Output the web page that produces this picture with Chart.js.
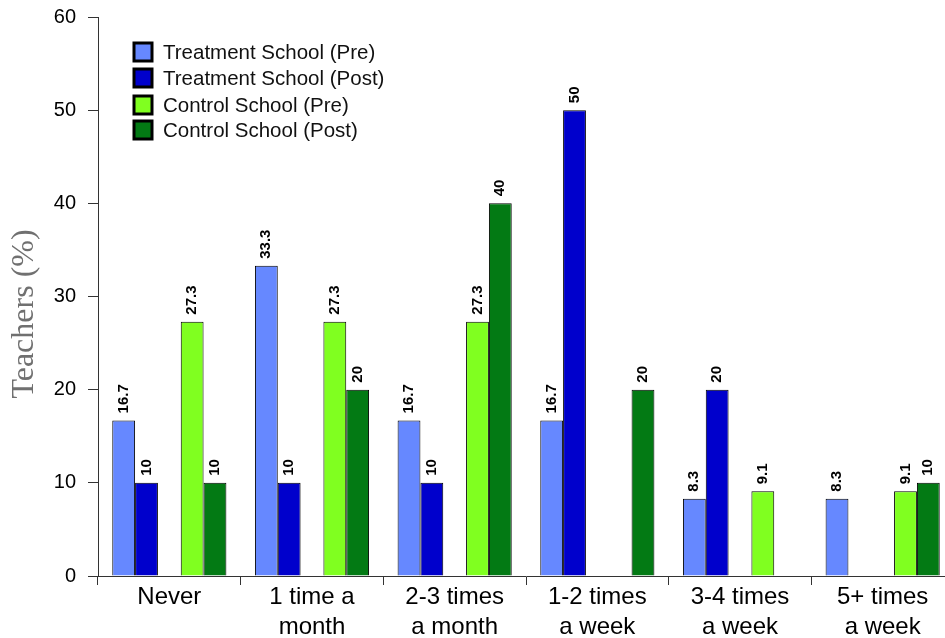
<!DOCTYPE html>
<html>
<head>
  <style>
    html, body{
      margin: 0;
      padding: 0;
      overflow: hidden;
      background-color: #FFFFFF;
    }
    #wrap{
      width: 954px;
      height: 638px;
    }
  </style>
  <script src="https://cdn.jsdelivr.net/npm/chart.js"></script>
</head>
<body>

<div id="wrap">
  <canvas id="myChart" width="954" height="638"></canvas>
</div>

<script>
  const ctx = document.getElementById('myChart');

  var categories = [['Never'], ['1 time a', 'month'], ['2-3 times', 'a month'], ['1-2 times', 'a week'], ['3-4 times', 'a week'], ['5+ times', 'a week']];
  var seriesNames = ['Treatment School (Pre)', 'Treatment School (Post)', 'Control School (Pre)', 'Control School (Post)'];
  var treatPre  = [16.7, 33.3, 16.7, 16.7, 8.3, 8.3];
  var treatPost = [10, 10, 10, 50, 20, null];
  var ctrlPre   = [27.3, 27.3, 27.3, null, 9.1, 9.1];
  var ctrlPost  = [10, 20, 40, 20, null, 10];
  var yTicks = [0, 10, 20, 30, 40, 50, 60];
  var yTitle = 'Teachers (%)';

  var colors = ['#6688FF', '#0000CC', '#80FF20', '#037A14'];

  // empty slot between the treatment pair and the control pair
  var spacer = categories.map(() => null);

  var sans = "'Liberation Sans', Arial, sans-serif";

  Chart.defaults.font.family = sans;
  Chart.defaults.color = '#000';

  const valueLabels = {
    id: 'valueLabels',
    afterDatasetsDraw(chart) {
      const c = chart.ctx;
      c.save();
      c.font = "bold 15px " + sans;
      c.fillStyle = '#000';
      c.textAlign = 'left';
      c.textBaseline = 'middle';
      chart.data.datasets.forEach((ds, di) => {
        if (ds.spacer) return;
        const meta = chart.getDatasetMeta(di);
        meta.data.forEach((bar, i) => {
          const v = ds.data[i];
          if (v === null || v === undefined) return;
          c.save();
          c.translate(bar.x, bar.y - 7);
          c.rotate(-Math.PI / 2);
          c.fillText(String(v), 0, 0);
          c.restore();
        });
      });
      c.restore();
    }
  };

  const boxLegend = {
    id: 'boxLegend',
    afterDraw(chart) {
      const c = chart.ctx;
      const rows = [52, 78, 105, 130];
      c.save();
      let n = 0;
      chart.data.datasets.forEach((ds) => {
        if (ds.spacer) return;
        const y = rows[n];
        c.fillStyle = ds.backgroundColor;
        c.fillRect(134, y - 9, 18, 18);
        c.lineWidth = 3;
        c.strokeStyle = '#000';
        c.strokeRect(134, y - 9, 18, 18);
        c.fillStyle = '#111';
        c.font = "20.5px " + sans;
        c.textAlign = 'left';
        c.textBaseline = 'middle';
        c.fillText(ds.label, 163, y + 1);
        n++;
      });
      c.restore();
    }
  };

  const sideTitle = {
    id: 'sideTitle',
    afterDraw(chart) {
      const c = chart.ctx;
      c.save();
      c.translate(25, 314);
      c.rotate(-Math.PI / 2);
      c.font = "32px 'Liberation Serif', 'Times New Roman', serif";
      c.fillStyle = '#707070';
      c.textAlign = 'center';
      c.textBaseline = 'middle';
      c.fillText(yTitle, 0, 0);
      c.restore();
    }
  };

  function makeSet(i, data) {
    return {
      label: seriesNames[i],
      data: data,
      backgroundColor: colors[i],
      borderColor: '#000',
      borderWidth: 1,
      barPercentage: 1,
      categoryPercentage: 0.8
    };
  }

  new Chart(ctx, {
    type: 'bar',
    data: {
      labels: categories,
      datasets: [
        makeSet(0, treatPre),
        makeSet(1, treatPost),
        { label: '', data: spacer, spacer: true, barPercentage: 1, categoryPercentage: 0.8 },
        makeSet(2, ctrlPre),
        makeSet(3, ctrlPost)
      ]
    },
    options: {
      responsive: false,
      animation: false,
      devicePixelRatio: 1,
      layout: {
        padding: { top: 17, left: 0, right: 0, bottom: 0 }
      },
      plugins: {
        legend: { display: false },
        tooltip: { enabled: false }
      },
      scales: {
        y: {
          min: 0,
          max: 60,
          afterBuildTicks: (axis) => { axis.ticks = yTicks.map(v => ({ value: v })); },
          afterFit: (axis) => {
            axis.width = 98;
            axis.paddingTop = 0;
            axis.paddingBottom = 0;
          },
          ticks: {
            font: { size: 20 },
            color: '#000',
            padding: 12
          },
          grid: {
            drawOnChartArea: false,
            tickLength: 10,
            color: '#333'
          },
          border: { color: '#333' }
        },
        x: {
          afterFit: (axis) => {
            axis.height = 62;
            axis.paddingLeft = 0;
            axis.paddingRight = 0;
          },
          ticks: {
            font: { size: 24, lineHeight: 1.25 },
            color: '#000',
            padding: -3,
            maxRotation: 0
          },
          grid: {
            offset: true,
            drawOnChartArea: false,
            tickLength: 9,
            color: '#333'
          },
          border: { color: '#333' }
        }
      }
    },
    plugins: [valueLabels, boxLegend, sideTitle]
  });
</script>
</body>
</html>
